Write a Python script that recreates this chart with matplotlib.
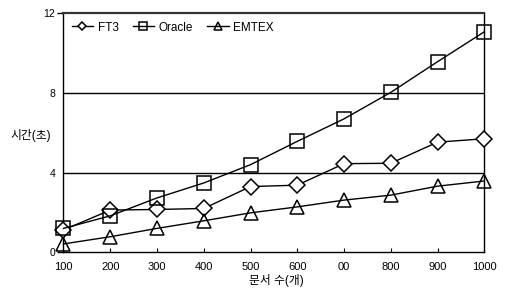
import matplotlib
matplotlib.use("Agg")
import matplotlib.pyplot as plt

plt.rcParams['font.family'] = ['Liberation Sans', 'Noto Sans CJK KR', 'DejaVu Sans']

categories = ["100", "200", "300", "400", "500", "600", "00", "800", "900", "1000"]
ft3 = [1.12, 2.12, 2.15, 2.2, 3.3, 3.37, 4.45, 4.47, 5.53, 5.7]
oracle = [1.2, 1.83, 2.73, 3.48, 4.4, 5.57, 6.7, 8.03, 9.57, 11.07]
emtex = [0.42, 0.78, 1.2, 1.58, 1.98, 2.28, 2.62, 2.87, 3.32, 3.58]
yticks = [0, 4, 8, 12]

fig = plt.figure(figsize=(5.05, 2.88), dpi=100)
ax = fig.add_axes([0.1257, 0.124, 0.959 - 0.1257, 0.9538 - 0.124])

x = list(range(len(categories)))
ax.plot(x, ft3, color='black', lw=1.0, marker='D', ms=8, mfc='white', mec='black', mew=1.1,
        label='FT3', zorder=3, clip_on=False)
ax.plot(x, oracle, color='black', lw=1.0, marker='s', ms=9.5, mfc='none', mec='black', mew=1.1,
        label='Oracle', zorder=3, clip_on=False)
ax.plot(x, emtex, color='black', lw=1.0, marker='^', ms=10, mfc='none', mec='black', mew=1.1,
        label='EMTEX', zorder=3, clip_on=False)

ax.set_xlim(0, len(categories) - 1)
ax.set_ylim(0, 12)
ax.set_yticks(yticks)
ax.set_yticklabels([str(v) for v in yticks], fontsize=7.5)
ax.set_xticks(x)
ax.set_xticklabels(categories, fontsize=8)
ax.tick_params(axis='x', direction='in', length=3, width=0.8, pad=7)
ax.tick_params(axis='y', direction='out', length=0, width=1.0, pad=6)
yt = ax.yaxis.get_major_ticks()
for i in (0, len(yt) - 1):
    yt[i].tick1line.set_markersize(4)

for v in [4, 8]:
    ax.axhline(v, color='black', lw=1.0, zorder=1)

for s in ['left', 'right', 'bottom']:
    ax.spines[s].set_linewidth(1.0)
    ax.spines[s].set_color('black')
ax.spines['top'].set_linewidth(1.6)
ax.spines['top'].set_color('#333333')

ax.set_ylabel('시간(초)', fontsize=8.5, rotation=0, ha='center', va='center')
ax.yaxis.set_label_coords(-0.077, 0.488)
ax.set_xlabel('문서 수(개)', fontsize=8.5, va='center')
ax.xaxis.set_label_coords(0.505, -0.116)

leg = ax.legend(loc='upper left', ncol=3, frameon=False, fontsize=8.5,
                markerscale=0.55, handlelength=1.8, handletextpad=0.4,
                columnspacing=1.2, borderaxespad=0.3, borderpad=0.4)

fig.savefig('out.png', dpi=100)
